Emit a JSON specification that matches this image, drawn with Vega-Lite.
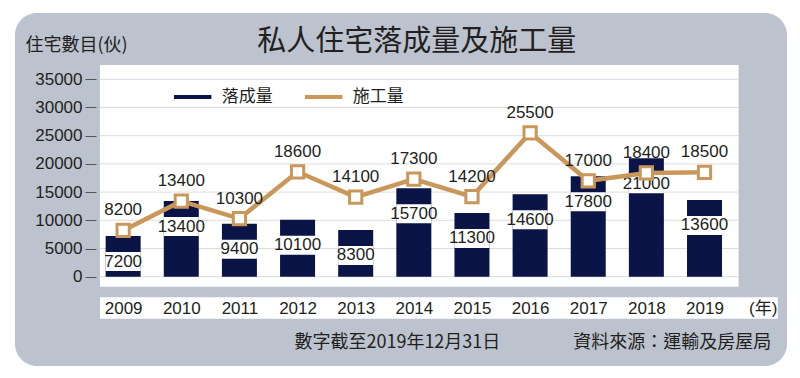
{
  "$schema": "https://vega.github.io/schema/vega-lite/v6.json",
  "width": 772,
  "height": 353,
  "padding": {"left": 15, "top": 13, "right": 13, "bottom": 12},
  "autosize": {"type": "none"},
  "background": "white",
  "config": {
    "view": {"fill": "#bcc3cf", "stroke": null, "cornerRadius": 22},
    "font": "Liberation Sans, Noto Sans CJK TC",
    "text": {"font": "Liberation Sans, Noto Sans CJK TC", "fontSize": 17, "color": "#231f20"}
  },
  "data": {
    "values": [
      {"year": 2009, "completed": 7200, "started": 8200},
      {"year": 2010, "completed": 13400, "started": 13400},
      {"year": 2011, "completed": 9400, "started": 10300},
      {"year": 2012, "completed": 10100, "started": 18600},
      {"year": 2013, "completed": 8300, "started": 14100},
      {"year": 2014, "completed": 15700, "started": 17300},
      {"year": 2015, "completed": 11300, "started": 14200},
      {"year": 2016, "completed": 14600, "started": 25500},
      {"year": 2017, "completed": 17800, "started": 17000},
      {"year": 2018, "completed": 21000, "started": 18400},
      {"year": 2019, "completed": 13600, "started": 18500}
    ]
  },
  "layer": [
    {
      "data": {"values": [{}]},
      "mark": {"type": "rect", "color": "white"},
      "encoding": {
        "x": {"datum": 2008.601, "type": "quantitative", "scale": {"domain": [2007.2258, 2020.3328], "nice": false, "zero": false}},
        "x2": {"datum": 2019.586},
        "y": {"datum": 37535, "type": "quantitative", "scale": {"domain": [-15833, 46755], "nice": false, "zero": false}},
        "y2": {"datum": -1773}
      }
    },
    {
      "data": {"values": [{}]},
      "mark": {"type": "rect", "color": "white"},
      "encoding": {
        "x": {"datum": 2008.601, "type": "quantitative"},
        "x2": {"datum": 2020.26},
        "y": {"datum": -3652, "type": "quantitative"},
        "y2": {"datum": -7447}
      }
    },
    {
      "data": {"values": [{"v": 0}, {"v": 5000}, {"v": 10000}, {"v": 15000}, {"v": 20000}, {"v": 25000}, {"v": 30000}, {"v": 35000}]},
      "mark": {"type": "rule", "color": "#dcdcdc", "strokeWidth": 1},
      "encoding": {
        "x": {"datum": 2008.601, "type": "quantitative"},
        "x2": {"datum": 2019.586},
        "y": {"field": "v", "type": "quantitative"}
      }
    },
    {
      "mark": {"type": "bar", "color": "#0b1446", "width": 35},
      "encoding": {
        "x": {
          "field": "year", "type": "quantitative",
          "scale": {"domain": [2007.2258, 2020.3328], "nice": false, "zero": false},
          "axis": {
            "values": [2009, 2010, 2011, 2012, 2013, 2014, 2015, 2016, 2017, 2018, 2019, 2020],
            "format": "d",
            "labelExpr": "datum.value == 2020 ? '(年)' : datum.label",
            "ticks": false, "domain": false, "grid": false,
            "labelPadding": 0, "offset": -58, "labelBaseline": "middle",
            "labelFont": "Liberation Sans, Noto Sans CJK TC",
            "labelFontSize": 17, "labelColor": "#231f20",
            "labelFlush": false, "labelOverlap": false,
            "zindex": 2,
            "title": null
          }
        },
        "y": {
          "field": "completed", "type": "quantitative", "stack": null,
          "scale": {"domain": [-15833, 46755], "nice": false, "zero": false},
          "axis": {
            "values": [0, 5000, 10000, 15000, 20000, 25000, 30000, 35000],
            "format": "d",
            "offset": -81, "tickSize": 11, "labelPadding": 3,
            "domain": false, "grid": false, "tickColor": "#555555", "tickWidth": 1,
            "labelFont": "Liberation Sans", "labelFontSize": 17, "labelColor": "#231f20",
            "labelFlush": false, "labelOverlap": false,
            "zindex": 2,
            "title": "住宅數目(伙)",
            "titleAngle": 0, "titleAlign": "left", "titleBaseline": "middle",
            "titleX": -71, "titleY": 32.7,
            "titleFont": "Noto Sans CJK TC", "titleFontSize": 18, "titleFontWeight": "normal",
            "titleColor": "#231f20"
          }
        }
      }
    },
    {
      "mark": {"type": "bar", "color": "white", "width": 35, "yOffset": 16, "y2Offset": 35},
      "encoding": {
        "x": {"field": "year", "type": "quantitative"},
        "y": {"field": "completed", "type": "quantitative", "stack": null},
        "y2": {"field": "completed"}
      }
    },
    {
      "mark": {"type": "text", "baseline": "middle", "align": "center", "dy": 25.5, "font": "Liberation Sans", "fontSize": 17},
      "encoding": {
        "x": {"field": "year", "type": "quantitative"},
        "y": {"field": "completed", "type": "quantitative"},
        "text": {"field": "completed", "type": "quantitative", "format": "d"}
      }
    },
    {
      "mark": {"type": "line", "strokeWidth": 4.5},
      "encoding": {
        "x": {"field": "year", "type": "quantitative"},
        "y": {"field": "started", "type": "quantitative"},
        "color": {
          "datum": "施工量",
          "type": "nominal",
          "scale": {"domain": ["落成量", "施工量"], "range": ["#0b1446", "#c9975a"]},
          "legend": {
            "orient": "none", "legendX": 156.7, "legendY": 63,
            "direction": "horizontal", "title": null,
            "symbolType": "stroke", "symbolStrokeWidth": 4, "symbolSize": 1400,
            "labelFont": "Noto Sans CJK TC", "labelFontSize": 17, "labelColor": "#231f20",
            "labelOffset": 8, "columnPadding": 24, "padding": 0
          }
        }
      }
    },
    {
      "mark": {"type": "point", "shape": "square", "filled": true, "fill": "white", "stroke": "#c9975a", "strokeWidth": 3, "size": 150, "opacity": 1},
      "encoding": {
        "x": {"field": "year", "type": "quantitative"},
        "y": {"field": "started", "type": "quantitative"}
      }
    },
    {
      "mark": {"type": "text", "baseline": "middle", "align": "center", "dy": -20, "font": "Liberation Sans", "fontSize": 17},
      "encoding": {
        "x": {"field": "year", "type": "quantitative"},
        "y": {"field": "started", "type": "quantitative"},
        "text": {"field": "started", "type": "quantitative", "format": "d"}
      }
    },
    {
      "data": {"values": [{}]},
      "mark": {"type": "text", "align": "center", "baseline": "middle", "font": "Noto Sans CJK TC", "fontSize": 29, "fontWeight": 400},
      "encoding": {
        "x": {"datum": 2014.051, "type": "quantitative"},
        "y": {"datum": 41667, "type": "quantitative"},
        "text": {"value": "私人住宅落成量及施工量"}
      }
    },
    {
      "data": {"values": [{}]},
      "mark": {"type": "text", "align": "left", "baseline": "middle", "font": "Noto Sans CJK TC", "fontSize": 18},
      "encoding": {
        "x": {"datum": 2011.946, "type": "quantitative"},
        "y": {"datum": -11667, "type": "quantitative"},
        "text": {"value": "數字截至2019年12月31日"}
      }
    },
    {
      "data": {"values": [{}]},
      "mark": {"type": "text", "align": "right", "baseline": "middle", "font": "Noto Sans CJK TC", "fontSize": 18},
      "encoding": {
        "x": {"datum": 2020.146, "type": "quantitative"},
        "y": {"datum": -11667, "type": "quantitative"},
        "text": {"value": "資料來源：運輸及房屋局"}
      }
    }
  ]
}
